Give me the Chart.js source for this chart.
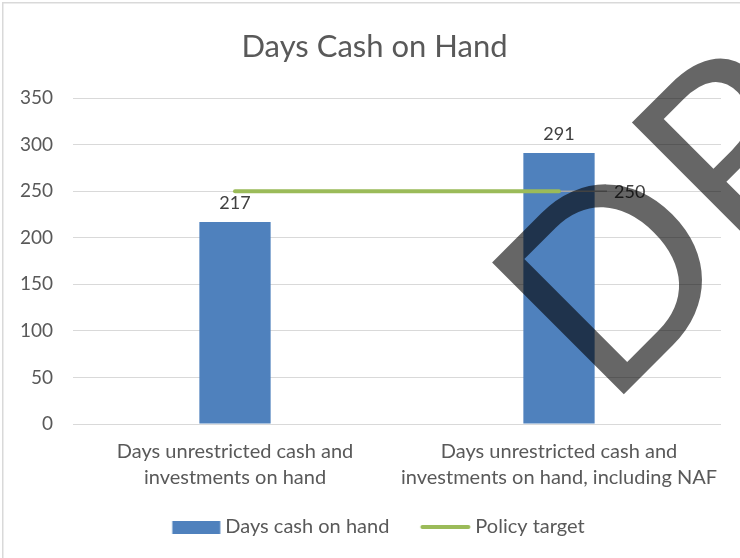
<!DOCTYPE html>
<html><head><meta charset="utf-8">
<script src="https://cdn.jsdelivr.net/npm/chart.js@4.4.1/dist/chart.umd.min.js"></script>
<style>html,body{margin:0;padding:0;background:#fff;overflow:hidden;width:740px;height:558px}canvas{display:block}</style>
</head><body><canvas id="c" width="749" height="558"></canvas>
<script>
const titleText = "Days Cash on Hand";
const categories = [
  ["Days unrestricted cash and", "investments on hand"],
  ["Days unrestricted cash and", "investments on hand, including NAF"]
];
const seriesNames = ["Days cash on hand", "Policy target"];
const daysCashOnHand = [217, 291];
const policyTarget = [250, 250];
const yTickMin = 0, yTickMax = 350, yTickStep = 50;
const watermarkText = "DRAFT";

const FONT = "Lato";
const BAR_COLOR = '#4f81bd';
const LINE_COLOR = '#9bbb59';

// legend marker images (visible mark offset inside a wider transparent canvas)
function markerImage(w, h, visW, offset, color) {
  const c = document.createElement('canvas');
  c.width = w; c.height = h;
  const g = c.getContext('2d');
  g.fillStyle = color;
  if (h <= 4) {
    g.beginPath();
    const r = h / 2;
    g.moveTo(offset + r, 0);
    g.lineTo(offset + visW - r, 0);
    g.arc(offset + visW - r, r, r, -Math.PI / 2, Math.PI / 2);
    g.lineTo(offset + r, h);
    g.arc(offset + r, r, r, Math.PI / 2, Math.PI * 1.5);
    g.fill();
  } else {
    g.fillRect(offset, 0, visW, h);
  }
  return c;
}
const BOXW = 51;
const IMGW = 80;
const barMarker = markerImage(IMGW, 13, 48, 70.5 - 48, BAR_COLOR);
const lineMarker = markerImage(IMGW, 4, 50, 70.5 - 50, LINE_COLOR);

const bgBorder = {
  id: 'bgBorder',
  beforeDraw(chart) {
    const ctx = chart.ctx;
    ctx.save();
    ctx.fillStyle = '#ffffff';
    ctx.fillRect(0, 0, chart.width, chart.height);
    ctx.strokeStyle = '#d9d9d9';
    ctx.lineWidth = 1.5;
    ctx.beginPath();
    ctx.moveTo(2.75, chart.height);
    ctx.lineTo(2.75, 2.75);
    ctx.lineTo(chart.width, 2.75);
    ctx.stroke();
    ctx.restore();
  }
};

const valueLabels = {
  id: 'valueLabels',
  afterDatasetsDraw(chart) {
    const ctx = chart.ctx;
    ctx.save();
    ctx.font = '18px ' + FONT;
    ctx.fillStyle = '#404040';
    const barMeta = chart.getDatasetMeta(0);
    ctx.textAlign = 'center';
    ctx.textBaseline = 'bottom';
    barMeta.data.forEach((el, i) => {
      ctx.fillText(String(daysCashOnHand[i]), el.x, el.y - 10);
    });
    const lineMeta = chart.getDatasetMeta(1);
    const last = lineMeta.data.length - 1;
    const p = lineMeta.data[last];
    ctx.strokeStyle = '#a6a6a6';
    ctx.lineWidth = 1.5;
    ctx.beginPath();
    ctx.moveTo(p.x + 2, p.y);
    ctx.lineTo(p.x + 48, p.y);
    ctx.stroke();
    ctx.textAlign = 'left';
    ctx.textBaseline = 'middle';
    ctx.fillText(String(policyTarget[last]), p.x + 55, p.y + 1);
    ctx.restore();
  }
};

const watermark = {
  id: 'watermark',
  afterDraw(chart) {
    const ctx = chart.ctx;
    ctx.save();
    ctx.translate(607, 411);
    ctx.rotate(-Math.PI / 4);
    ctx.font = '260px ' + FONT;
    ctx.fillStyle = 'rgba(0,0,0,0.6)';
    ctx.textAlign = 'left';
    ctx.textBaseline = 'alphabetic';
    ctx.fillText(watermarkText, 0, 0);
    ctx.restore();
  }
};

function make() {
  new Chart(document.getElementById('c'), {
    data: {
      labels: categories,
      datasets: [
        {
          type: 'bar',
          label: seriesNames[0],
          data: daysCashOnHand,
          backgroundColor: BAR_COLOR,
          borderWidth: 0,
          barPercentage: 0.22,
          categoryPercentage: 1,
          yAxisID: 'y',
          order: 1
        },
        {
          type: 'line',
          label: seriesNames[1],
          data: policyTarget,
          borderColor: LINE_COLOR,
          backgroundColor: LINE_COLOR,
          borderWidth: 4,
          borderCapStyle: 'round',
          pointRadius: 0,
          fill: false,
          yAxisID: 'y',
          order: 0
        }
      ]
    },
    options: {
      responsive: false,
      animation: false,
      layout: { padding: { left: 0, right: 0, top: 0, bottom: 11 } },
      plugins: {
        title: {
          display: true,
          text: titleText,
          color: '#595959',
          font: { family: FONT, size: 31, weight: 'normal', lineHeight: 1.2 },
          padding: { top: 28, bottom: 32.8 }
        },
        legend: {
          position: 'bottom',
          labels: {
            usePointStyle: true,
            pointStyleWidth: BOXW,
            boxHeight: 13,
            padding: 25,
            color: '#595959',
            font: { family: FONT, size: 20 },
            sort: (a, b) => a.datasetIndex - b.datasetIndex,
            generateLabels(chart) {
              const items = Chart.defaults.plugins.legend.labels.generateLabels(chart);
              items.forEach(it => {
                it.pointStyle = it.datasetIndex === 0 ? barMarker : lineMarker;
                it.lineWidth = 0;
              });
              return items;
            }
          }
        },
        tooltip: { enabled: false }
      },
      scales: {
        x: {
          grid: { display: false, drawTicks: false },
          border: { display: false },
          ticks: {
            color: '#595959',
            font: { family: FONT, size: 20, lineHeight: 1.3 },
            padding: 15,
            maxRotation: 0,
            autoSkip: false
          },
          afterFit(scale) { scale.height = 68; }
        },
        y: {
          position: 'left',
          min: yTickMin,
          max: yTickMax,
          grid: { color: '#d9d9d9', lineWidth: 1, drawTicks: false },
          border: { display: false },
          ticks: {
            stepSize: yTickStep,
            color: '#595959',
            font: { family: FONT, size: 19 },
            padding: 20
          },
          afterFit(scale) { scale.width = 73; }
        },
        yRight: {
          type: 'linear',
          position: 'right',
          display: true,
          grid: { display: false, drawTicks: false },
          border: { display: false },
          ticks: { display: false },
          afterFit(scale) { scale.width = 28; }
        }
      }
    },
    plugins: [bgBorder, valueLabels, watermark]
  });
}
if (document.fonts && document.fonts.load) {
  Promise.all([document.fonts.load('18px Lato'), document.fonts.load('31px Lato')]).then(make, make);
} else { make(); }
</script>
</body></html>
